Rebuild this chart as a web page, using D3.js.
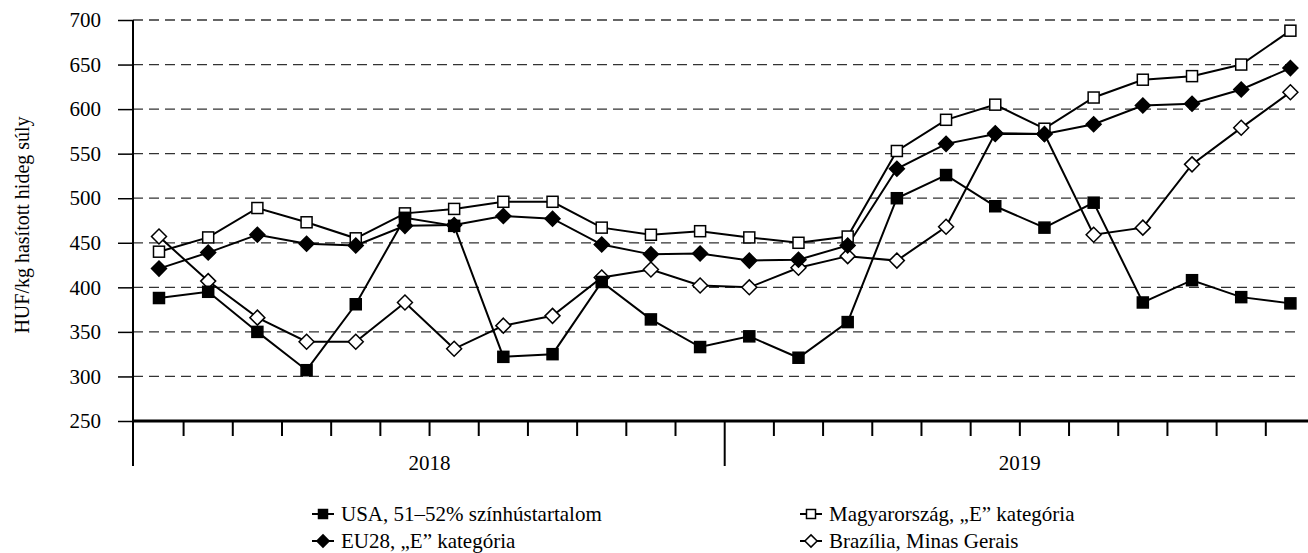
<!DOCTYPE html>
<html>
<head>
<meta charset="utf-8">
<script src="https://cdn.jsdelivr.net/npm/d3@7"></script>
<style>
  body { margin: 0; background: #fff; }
</style>
</head>
<body>
<script>
var width = 1308
var height = 553
var FONT = 'Liberation Serif, DejaVu Serif, Times New Roman, serif'

var months = ['2018.01', '2018.02', '2018.03', '2018.04', '2018.05', '2018.06',
  '2018.07', '2018.08', '2018.09', '2018.10', '2018.11', '2018.12',
  '2019.01', '2019.02', '2019.03', '2019.04', '2019.05', '2019.06',
  '2019.07', '2019.08', '2019.09', '2019.10', '2019.11', '2019.12']
var years = ['2018', '2019']
var yTicks = [250, 300, 350, 400, 450, 500, 550, 600, 650, 700]

var usa = [388, 395, 350, 307, 381, 478, 469, 322, 325, 406, 364, 333,
  345, 321, 361, 500, 526, 491, 467, 495, 383, 408, 389, 382]
var hun = [440, 456, 489, 473, 455, 483, 488, 496, 496, 467, 459, 463,
  456, 450, 457, 553, 588, 605, 578, 613, 633, 637, 650, 688]
var eu = [421, 439, 459, 449, 447, 469, 470, 480, 477, 448, 437, 438,
  430, 431, 447, 533, 561, 572, 572, 583, 604, 606, 622, 646]
var bra = [457, 407, 366, 339, 339, 383, 331, 357, 368, 411, 420, 402,
  400, 422, 435, 430, 468, 573, 572, 459, 467, 538, 579, 619]

var series = [
  { name: 'USA, 51–52% színhústartalom', values: usa, shape: 'square', fill: '#000' },
  { name: 'Magyarország, „E” kategória', values: hun, shape: 'square', fill: '#fff' },
  { name: 'EU28, „E” kategória', values: eu, shape: 'diamond', fill: '#000' },
  { name: 'Brazília, Minas Gerais', values: bra, shape: 'diamond', fill: '#fff' }
]

var svg = d3.select('body').append('svg')
  .attr('width', width)
  .attr('height', height)
  .attr('font-family', FONT)

var x = d3.scaleBand().domain(months).range([134.4, 1315])
var y = d3.scaleLinear().domain([250, 700]).range([421, 20])
var bw = x.bandwidth()

// dashed gridlines
svg.append('g').selectAll('line')
  .data(yTicks.filter(function (d) { return d > 250 }))
  .enter().append('line')
  .attr('x1', 133).attr('x2', 1298)
  .attr('y1', function (d) { return y(d) }).attr('y2', function (d) { return y(d) })
  .attr('stroke', '#333').attr('stroke-width', 1.3)
  .attr('stroke-dasharray', '10,6')

// y axis
var yAxis = svg.append('g')
  .attr('transform', 'translate(133,0)')
  .call(d3.axisLeft(y).tickValues(yTicks).tickSize(15).tickPadding(17))
yAxis.attr('font-family', FONT).attr('font-size', 21)
yAxis.select('.domain').remove()
yAxis.selectAll('.tick line').attr('stroke', '#000').attr('stroke-width', 1.5)
yAxis.selectAll('text').attr('fill', '#000')
svg.append('line')
  .attr('x1', 133).attr('x2', 133).attr('y1', 20).attr('y2', 466)
  .attr('stroke', '#000').attr('stroke-width', 2)

// x axis
svg.append('line')
  .attr('x1', 132).attr('x2', width).attr('y1', 421).attr('y2', 421)
  .attr('stroke', '#000').attr('stroke-width', 3)
svg.append('g').selectAll('line')
  .data(months.slice(1))
  .enter().append('line')
  .attr('x1', function (d) { return x(d) }).attr('x2', function (d) { return x(d) })
  .attr('y1', 421)
  .attr('y2', function (d) { return d === '2019.01' ? 466 : 436 })
  .attr('stroke', '#000').attr('stroke-width', 2)

svg.append('g').selectAll('text')
  .data(years)
  .enter().append('text')
  .attr('x', function (d) {
    var ms = months.filter(function (m) { return m.slice(0, 4) === d })
    return (x(ms[0]) + x(ms[ms.length - 1]) + bw) / 2
  })
  .attr('y', 470)
  .attr('text-anchor', 'middle')
  .attr('font-size', 21)
  .text(function (d) { return d })

// y title
svg.append('text')
  .attr('transform', 'translate(29,225) rotate(-90)')
  .attr('text-anchor', 'middle')
  .attr('font-size', 20)
  .text('HUF/kg hasított hideg súly')

function marker (sel, shape, fill, s) {
  if (shape === 'square') {
    sel.append('rect')
      .attr('x', -s / 2).attr('y', -s / 2).attr('width', s).attr('height', s)
      .attr('fill', fill).attr('stroke', '#000').attr('stroke-width', 1.5)
  } else {
    var r = s * 0.68
    sel.append('path')
      .attr('d', 'M0,' + (-r) + 'L' + r + ',0L0,' + r + 'L' + (-r) + ',0Z')
      .attr('fill', fill).attr('stroke', '#000').attr('stroke-width', 1.5)
  }
}

var line = d3.line()
  .x(function (d, i) { return x(months[i]) + bw / 2 })
  .y(function (d) { return y(d) })

var drawOrder = [series[3], series[1], series[2], series[0]]
drawOrder.forEach(function (s) {
  svg.append('path')
    .attr('d', line(s.values))
    .attr('fill', 'none').attr('stroke', '#000').attr('stroke-width', 2)
})
drawOrder.forEach(function (s) {
  svg.append('g').selectAll('g')
    .data(s.values)
    .enter().append('g')
    .attr('transform', function (d, i) { return 'translate(' + (x(months[i]) + bw / 2) + ',' + y(d) + ')' })
    .each(function () { marker(d3.select(this), s.shape, s.fill, 11) })
})

// legend
var legendPos = [[312, 514], [800, 514], [312, 541], [800, 541]]
series.forEach(function (s, i) {
  var g = svg.append('g').attr('transform', 'translate(' + legendPos[i][0] + ',' + legendPos[i][1] + ')')
  g.append('line').attr('x1', 0).attr('x2', 22).attr('y1', 0).attr('y2', 0)
    .attr('stroke', '#000').attr('stroke-width', 2)
  marker(g.append('g').attr('transform', 'translate(11,0)'), s.shape, s.fill, 9)
  g.append('text').attr('x', 29).attr('y', 7)
    .attr('font-size', 21)
    .text(s.name)
})
</script>
</body>
</html>
